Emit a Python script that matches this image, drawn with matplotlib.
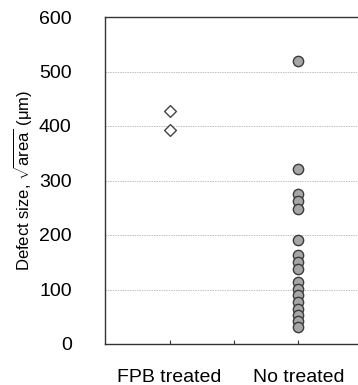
import numpy as np
import matplotlib.pyplot as plt

plt.rcParams['font.family'] = ['Liberation Sans', 'DejaVu Sans']
plt.rcParams['mathtext.fontset'] = 'custom'
plt.rcParams['mathtext.rm'] = 'Liberation Sans'

categories = ["FPB treated", "No treated"]

fpb_sizes = [428, 393]
no_sizes = [520, 322, 276, 262, 248, 190, 163, 150, 138,
            113, 101, 89, 77, 65, 53, 42, 32]

fig = plt.figure(figsize=(3.58, 3.85), dpi=100)
ax = fig.add_axes([105/358, 1 - 344/385, 258/358, 327/385])

ax.scatter(np.full(len(fpb_sizes), 1), fpb_sizes, marker="D", s=36,
           facecolor="white", edgecolor="#444444", linewidth=1.0, zorder=3)
ax.scatter(np.full(len(no_sizes), 2), no_sizes, marker="o", s=55,
           facecolor="#a6a6a6", edgecolor="#3a3a3a", linewidth=1.0, zorder=3)

ax.set_ylim(0, 600)
ax.set_xlim(0.5, 2.5)
ax.set_yticks(np.arange(0, 601, 100))

for v in range(100, 600, 100):
    ax.axhline(v, color="#c0c0c0", linewidth=0.7, linestyle=(0, (1.5, 1)), zorder=1)

ax.set_xticks([1, 1.5, 2])
ax.set_xticklabels([categories[0], "", categories[1]])
ax.tick_params(axis="x", direction="in", length=3, pad=18, labelsize=14, color="#333333")
ax.tick_params(axis="y", length=0, pad=24, labelsize=14)

ax.spines["right"].set_visible(False)
for s in ["left", "top", "bottom"]:
    ax.spines[s].set_color("#333333")
    ax.spines[s].set_linewidth(1.0)

ax.set_ylabel(r"Defect size, $\sqrt{\mathrm{area}}$ ($\mathrm{\mu m}$)", fontsize=12)
ax.yaxis.set_label_coords(-0.275, 0.5)

fig.savefig("out.png", dpi=100)
